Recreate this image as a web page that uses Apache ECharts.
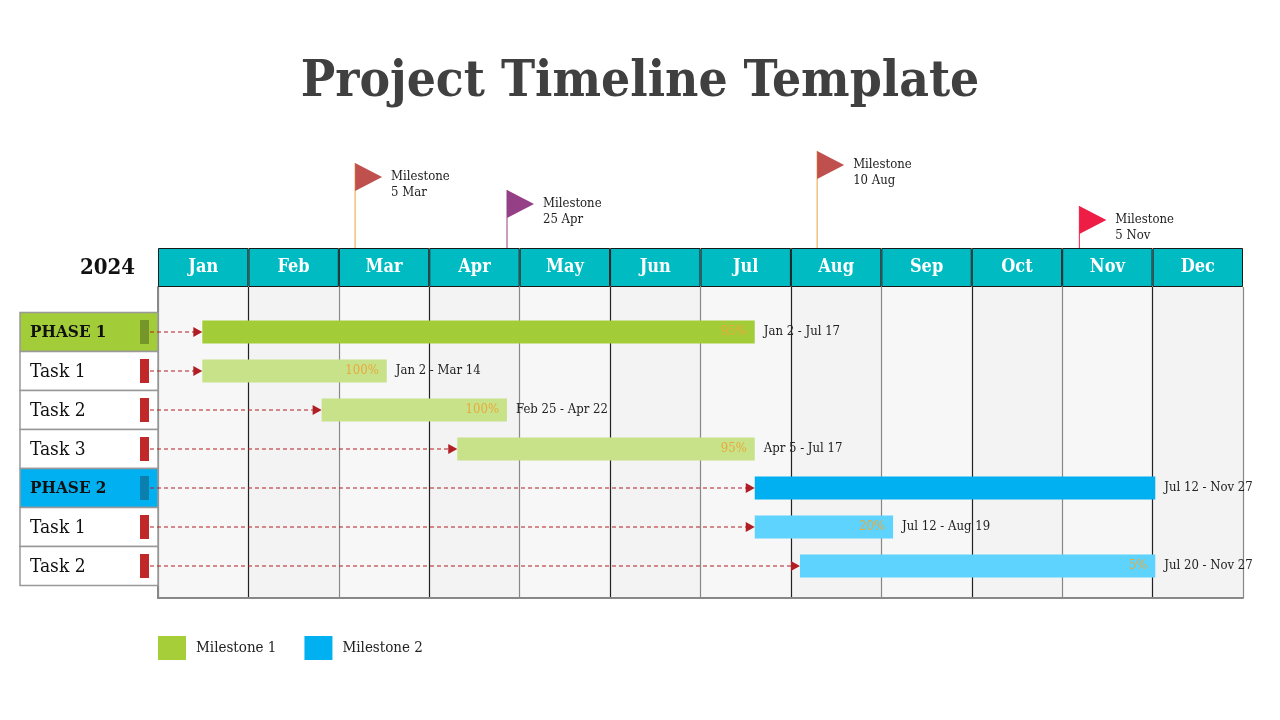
<!DOCTYPE html>
<html>
<head>
<meta charset="UTF-8">
<title>Project Timeline Template</title>
<script src="https://cdn.jsdelivr.net/npm/echarts@6/dist/echarts.min.js"></script>
<style>
  html, body { margin: 0; padding: 0; background: #fff; }
  #main { width: 1280px; height: 720px; }
</style>
</head>
<body>
<div id="main"></div>
<script>
var months = ['Jan', 'Feb', 'Mar', 'Apr', 'May', 'Jun', 'Jul', 'Aug', 'Sep', 'Oct', 'Nov', 'Dec'];

var rowNames = ['PHASE 1', 'Task 1', 'Task 2', 'Task 3', 'PHASE 2', 'Task 1', 'Task 2'];
var rowPhase = [1, 1, 1, 1, 2, 2, 2];
var rowIsPhase = [true, false, false, false, true, false, false];

// bar start / end, in months counted from 1 Jan (as drawn)
var barStart = [0.49, 0.49, 1.81, 3.31, 6.60, 6.60, 7.10];
var barEnd = [6.60, 2.53, 3.86, 6.60, 11.03, 8.13, 11.03];
var progress = ['95%', '100%', '100%', '95%', '', '20%', '5%'];
var dateRanges = ['Jan 2 - Jul 17', 'Jan 2 - Mar 14', 'Feb 25 - Apr 22', 'Apr 5 - Jul 17',
                  'Jul 12 - Nov 27', 'Jul 12 - Aug 19', 'Jul 20 - Nov 27'];

var milestoneAt = [2.18, 3.86, 7.29, 10.19];
var milestoneDates = ['5 Mar', '25 Apr', '10 Aug', '5 Nov'];

// drawing styles
var FONT = '"DejaVu Serif Condensed", "DejaVu Serif", serif';
var HEADER_TOP = 248;
var flagLift = [85, 58, 97, 42];
var flagColor = ['#c0504d', '#953f86', '#c0504d', '#ee1d45'];
var poleColor = ['#e8a33a', '#953f86', '#e8a33a', '#ee1d45'];
var phaseColor = { 1: '#a3cc39', 2: '#00b0f0' };
var taskColor = { 1: '#c8e28a', 2: '#5dd3fd' };
var phaseMark = { 1: '#76952b', 2: '#0b7fad' };

function barData(phase) {
  var out = [];
  for (var i = 0; i < rowNames.length; i++) {
    if (rowPhase[i] === phase) out.push([barStart[i], barEnd[i], i, progress[i], dateRanges[i]]);
  }
  return out;
}

function renderBar(params, api) {
  var r = api.value(2);
  var p0 = api.coord([api.value(0), r]);
  var p1 = api.coord([api.value(1), r]);
  var y = p0[1];
  var h = 23;
  var ph = rowPhase[r];
  var fill = rowIsPhase[r] ? phaseColor[ph] : taskColor[ph];
  var kids = [
    { type: 'line', shape: { x1: 150, y1: y, x2: p0[0] - 8, y2: y },
      style: { stroke: '#b01e24', lineWidth: 1.2, lineDash: [4, 3] } },
    { type: 'polygon', shape: { points: [[p0[0] - 9, y - 5], [p0[0], y], [p0[0] - 9, y + 5]] },
      style: { fill: '#b01e24' } },
    { type: 'rect', shape: { x: p0[0], y: y - h / 2, width: p1[0] - p0[0], height: h },
      style: { fill: fill } },
    { type: 'text', x: p1[0] + 9, y: y,
      style: { text: api.value(4), fill: '#222', font: '13px ' + FONT, align: 'left', verticalAlign: 'middle' } }
  ];
  if (api.value(3)) {
    kids.push({ type: 'text', x: p1[0] - 8, y: y,
      style: { text: api.value(3), fill: '#e9a93a', font: '13px ' + FONT, align: 'right', verticalAlign: 'middle' } });
  }
  return { type: 'group', children: kids };
}

function renderRowLabel(params, api) {
  var r = api.value(1);
  var y = api.coord([0, r])[1];
  var ph = rowPhase[r];
  var isPh = rowIsPhase[r];
  return {
    type: 'group',
    children: [
      { type: 'rect', shape: { x: 20, y: y - 19.5, width: 138, height: 39 },
        style: { fill: isPh ? phaseColor[ph] : '#fff', stroke: '#999', lineWidth: 1.5 } },
      { type: 'rect', shape: { x: 140, y: y - 12, width: 9, height: 24 },
        style: { fill: isPh ? phaseMark[ph] : '#c0282a' } },
      { type: 'text', x: 30, y: y + 1,
        style: { text: rowNames[r], fill: '#111', align: 'left', verticalAlign: 'middle',
          font: (isPh ? 'bold 17px ' : '19px ') + FONT } }
    ]
  };
}

function renderMilestone(params, api) {
  var i = params.dataIndex;
  var px = api.coord([api.value(0), 0])[0];
  var top = HEADER_TOP - flagLift[i];
  return {
    type: 'group',
    children: [
      { type: 'line', shape: { x1: px, y1: top, x2: px, y2: HEADER_TOP },
        style: { stroke: poleColor[i], lineWidth: 1 } },
      { type: 'polygon', shape: { points: [[px, top], [px + 27, top + 14], [px, top + 28]] },
        style: { fill: flagColor[i] } },
      { type: 'text', x: px + 36, y: top + 6,
        style: { text: 'Milestone\n' + milestoneDates[i], fill: '#222', font: '13px ' + FONT,
          lineHeight: 16, align: 'left', verticalAlign: 'top' } }
    ]
  };
}

var chart = echarts.init(document.getElementById('main'));

chart.setOption({
  animation: false,
  backgroundColor: '#fff',
  title: {
    text: 'Project Timeline Template',
    left: 'center',
    top: 52,
    textStyle: { fontFamily: FONT, fontSize: 51, fontWeight: 'bold', color: '#404040' }
  },
  legend: {
    data: ['Milestone 1', 'Milestone 2'],
    left: 153,
    top: 631,
    icon: 'rect',
    itemWidth: 28,
    itemHeight: 24,
    itemGap: 28,
    selectedMode: false,
    textStyle: { fontFamily: FONT, fontSize: 15, color: '#222', padding: [0, 0, 0, 5] }
  },
  graphic: [
    { type: 'text', x: 135, y: 268,
      style: { text: '2024', font: 'bold 22px ' + FONT, fill: '#111', align: 'right', verticalAlign: 'middle' } }
  ],
  grid: [
    { left: 158, width: 1085, top: 287, height: 311 },
    { left: 158, width: 1085, top: HEADER_TOP, height: 39 }
  ],
  xAxis: [
    { type: 'value', gridIndex: 0, min: 0, max: 12, interval: 1,
      axisLabel: { show: false }, axisTick: { show: false },
      axisLine: { show: true, onZero: false, lineStyle: { color: '#888', width: 2 } },
      splitLine: { show: true, lineStyle: { color: ['#888', '#222'], width: 1.2 } },
      splitArea: { show: true, areaStyle: { color: ['#f7f7f7', '#f3f3f3'] } } },
    { type: 'category', gridIndex: 1, data: months,
      axisLabel: { show: false }, axisTick: { show: false }, axisLine: { show: false } }
  ],
  yAxis: [
    { type: 'value', gridIndex: 0, inverse: true, min: -1.154, max: 6.82,
      axisLabel: { show: false }, axisTick: { show: false }, splitLine: { show: false },
      axisLine: { show: true, onZero: false, lineStyle: { color: '#888', width: 2 } } },
    { type: 'value', gridIndex: 1, min: 0, max: 1, show: false }
  ],
  series: [
    {
      type: 'bar', xAxisIndex: 1, yAxisIndex: 1, barWidth: '100%', silent: true,
      data: months.map(function () { return 1; }),
      itemStyle: { color: '#00bcc2', borderColor: '#1a1a1a', borderWidth: 1 },
      label: { show: true, position: 'inside', formatter: '{b}', color: '#fff',
        fontFamily: FONT, fontWeight: 'bold', fontSize: 18 }
    },
    {
      name: 'rows', type: 'custom', xAxisIndex: 0, yAxisIndex: 0, silent: true,
      renderItem: renderRowLabel,
      data: rowNames.map(function (n, i) { return [0, i]; }),
      encode: { x: 0, y: 1 }
    },
    {
      name: 'Milestone 1', type: 'custom', xAxisIndex: 0, yAxisIndex: 0, silent: true,
      itemStyle: { color: '#a6ce39' },
      renderItem: renderBar, data: barData(1), encode: { x: [0, 1], y: 2 }
    },
    {
      name: 'Milestone 2', type: 'custom', xAxisIndex: 0, yAxisIndex: 0, silent: true,
      itemStyle: { color: '#00b0f0' },
      renderItem: renderBar, data: barData(2), encode: { x: [0, 1], y: 2 }
    },
    {
      name: 'milestones', type: 'custom', xAxisIndex: 0, yAxisIndex: 0, silent: true,
      renderItem: renderMilestone,
      data: milestoneAt.map(function (m) { return [m, 0]; }),
      encode: { x: 0, y: 1 }
    }
  ]
});
</script>
</body>
</html>
